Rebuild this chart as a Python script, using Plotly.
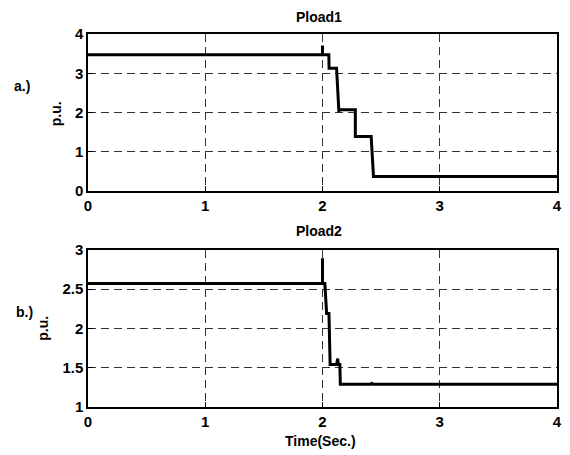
import plotly.graph_objects as go

# Pload1 trace
t1 = [0, 2.0, 2.0, 2.0, 2.054, 2.056, 2.12, 2.14, 2.14, 2.28, 2.28, 2.415, 2.435, 4.0]
p1 = [3.47, 3.47, 3.71, 3.47, 3.47, 3.13, 3.13, 2.01, 2.07, 2.07, 1.39, 1.39, 0.37, 0.37]

# Pload2 trace
t2 = [0, 2.0, 2.0, 2.0, 2.02, 2.035, 2.055, 2.065, 2.12, 2.13, 2.135, 2.148, 2.152, 2.41, 2.42, 2.43, 4.0]
p2 = [2.57, 2.57, 2.89, 2.57, 2.57, 2.19, 2.19, 1.54, 1.54, 1.615, 1.54, 1.54, 1.29, 1.29, 1.30, 1.29, 1.29]

x_ticks = [0, 1, 2, 3, 4]
y1_ticks = [0, 1, 2, 3, 4]
y2_ticks = [1, 1.5, 2, 2.5, 3]
y2_labels = ["1", "1.5", "2", "2.5", "3"]

OFF = 8  # page body margin
W, H = 570 - OFF, 455 - OFF
L, R, T, B = 88 - OFF, 8.5, 33.5 - OFF, 48.3
pw = W - L - R
ph = H - T - B

def py(pix):
    return (H - B - (pix - OFF)) / ph

def px(pix):
    return ((pix - OFF) - L) / pw

fig = go.Figure()
fig.add_trace(go.Scatter(x=t1, y=p1, mode="lines", line=dict(color="black", width=3),
                         xaxis="x", yaxis="y", showlegend=False))
fig.add_trace(go.Scatter(x=t2, y=p2, mode="lines", line=dict(color="black", width=3),
                         xaxis="x2", yaxis="y2", showlegend=False))

axis_common = dict(showline=True, linecolor="black", linewidth=1.5, mirror=True,
                   ticks="inside", ticklen=5, tickcolor="black",
                   showgrid=True, gridcolor="#333", griddash="8px,5px", gridwidth=1,
                   zeroline=False, tickfont=dict(size=15, color="black", family="Liberation Sans", weight="bold"))

fig.update_layout(
    width=W, height=H,
    margin=dict(l=L, r=R, t=T, b=B),
    plot_bgcolor="white", paper_bgcolor="white",
    font=dict(family="Liberation Sans", color="black", weight="bold"),
    xaxis=dict(domain=[0, 1], range=[0, 4], tickvals=x_ticks, anchor="y", **axis_common),
    yaxis=dict(domain=[py(190.7), 1], range=[0, 4], tickvals=y1_ticks, anchor="x", **axis_common),
    xaxis2=dict(domain=[0, 1], range=[0, 4], tickvals=x_ticks, anchor="y2", **axis_common),
    yaxis2=dict(domain=[0, py(249.3)], range=[1, 3], tickvals=y2_ticks, ticktext=y2_labels,
                anchor="x2", **axis_common),
)

ann_font = dict(size=14, color="black", family="Liberation Sans", weight="bold")
anns = [
    ("Pload1", 321.5, 16, 0),
    ("Pload2", 321.5, 231, 0),
    ("Time(Sec.)", 323, 441, 0),
    ("a.)", 21, 86, 0),
    ("b.)", 24, 312, 0),
    ("p.u.", 56.5, 113, -90),
    ("p.u.", 43, 328, -90),
]
for text, x, y, ang in anns:
    fig.add_annotation(text=text, x=px(x), y=py(y), xref="paper", yref="paper",
                       showarrow=False, textangle=ang, font=ann_font,
                       xanchor="center", yanchor="middle")

fig.write_html("out.html")
